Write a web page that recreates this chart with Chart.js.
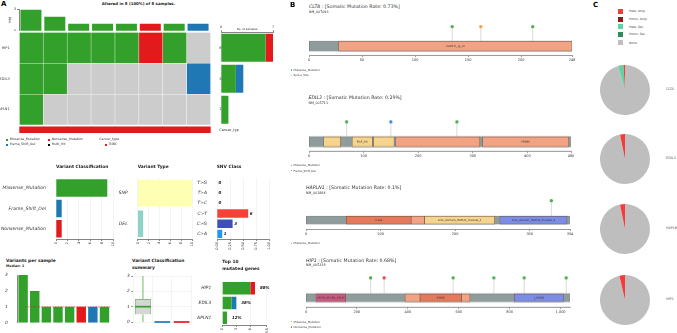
<!DOCTYPE html>
<html><head><meta charset="utf-8">
<script src="https://cdn.jsdelivr.net/npm/chart.js@4"></script>
<style>
html,body{margin:0;padding:0;background:#fff;}
#root{position:relative;width:677px;height:333px;overflow:hidden;background:#fff;font-family:'DejaVu Sans',sans-serif;}
canvas{position:absolute;}
.t{position:absolute;white-space:nowrap;line-height:1;color:#222;}
.m{position:absolute;}
</style></head><body><div id="root"></div>
<script>
// ================= DATA =================
const samples = ['S1','S2','S3','S4','S5','S6','S7','S8'];
const genes = ['HIP1','EDIL3','HAPLN1'];
const genePct = ['88%','38%','12%'];
const tmbPerSample = [3,2,1,1,1,1,1,1];
const tmbClass = ['Missense_Mutation','Missense_Mutation','Missense_Mutation','Missense_Mutation','Missense_Mutation','Nonsense_Mutation','Missense_Mutation','Frame_Shift_Del'];
const HIP1_calls = ['Missense_Mutation','Missense_Mutation','Missense_Mutation','Missense_Mutation','Missense_Mutation','Nonsense_Mutation','Missense_Mutation',''];
const EDIL3_calls = ['Missense_Mutation','Missense_Mutation','','','','','','Frame_Shift_Del'];
const HAPLN1_calls = ['Missense_Mutation','','','','','','',''];
const cancerType = ['TNBC','TNBC','TNBC','TNBC','TNBC','TNBC','TNBC','TNBC'];
const geneMissense = [6,2,1];
const geneNonsense = [1,0,0];
const geneFrameShift = [0,1,0];
const maxSamples = 7;

const vcLabels = ['Missense_Mutation','Frame_Shift_Del','Nonsense_Mutation'];
const vcCounts = [9,1,1];
const vtLabels = ['SNP','DEL'];
const vtCounts = [10,1];
const snvLabels = ['T>G','T>A','T>C','C>T','C>G','C>A'];
const snvCounts = [0,0,0,6,3,1];

const variantsPerSample = [3,2,1,1,1,1,1,1];
const vpsClass = ['Missense_Mutation','Missense_Mutation','Missense_Mutation','Missense_Mutation','Missense_Mutation','Nonsense_Mutation','Frame_Shift_Del','Missense_Mutation'];
const medianVariants = 1;

const vcsMin = [0,0,0];
const vcsQ1  = [0.5,0,0];
const vcsMed = [1,0,0];
const vcsQ3  = [1.5,0,0];
const vcsMax = [3,0,0];

const topGenes = ['HIP1','EDIL3','HAPLN1'];
const topPct = ['88%','38%','12%'];

// lollipop data
const CLTA_len = 248, CLTA_ticks = [0,50,100,150,200,248];
const CLTA_domStart = [28], CLTA_domEnd = [248], CLTA_domName = ['clathrin_lg_ch'], CLTA_domLabel = ['clathrin_lg_ch'];
const CLTA_mutPos = [135,162,211];
const CLTA_mutClass = ['Missense_Mutation','Splice_Site','Missense_Mutation'];

const EDIL3_len = 480, EDIL3_ticks = [0,100,200,300,400,480];
const EDIL3_domStart = [27,79,118,159,318], EDIL3_domEnd = [58,116,156,313,476];
const EDIL3_domName = ['EGF','EGF_CA','EGF','FA58C','FA58C'];
const EDIL3_domLabel = ['','EGF_CA','','','FA58C'];
const EDIL3_mutPos = [69,150,271];
const EDIL3_mutClass = ['Missense_Mutation','Frame_Shift_Del','Missense_Mutation'];

const HAPLN1_len = 354, HAPLN1_ticks = [0,100,200,300,354];
const HAPLN1_domStart = [54,141,159,260], HAPLN1_domEnd = [141,159,253,350];
const HAPLN1_domName = ['V-set','Ig','Link_domain_HAPLN_module_1','Link_domain_HAPLN_module_2'];
const HAPLN1_domLabel = ['V-set','','Link_domain_HAPLN_module_1','Link_domain_HAPLN_module_2'];
const HAPLN1_mutPos = [329];
const HAPLN1_mutClass = ['Missense_Mutation'];

const HIP1_len = 1037, HIP1_ticks = [0,200,400,600,800,1000];
const HIP1_domStart = [39,389,448,611,818], HIP1_domEnd = [156,448,611,644,1011];
const HIP1_domName = ['ANTH_AP180_CALM','coil','COG5','coil','I_LWEQ'];
const HIP1_domLabel = ['ANTH_AP180_CALM','','COG5','','I_LWEQ'];
const HIP1_mutPos = [254,307,578,738,857,1022];
const HIP1_mutClass = ['Missense_Mutation','Nonsense_Mutation','Missense_Mutation','Missense_Mutation','Missense_Mutation','Missense_Mutation'];

// CNV pies
const cnvLabels = ['Hete. Amp.','Homo. Amp.','Hete. Del.','Homo. Del.','None'];
const cnvGenes = ['CLTA','EDIL3','HAPLN1','HIP1'];
const CLTA_cnv   = [1.0,0,3.5,0,95.5];
const EDIL3_cnv  = [3.2,0,0,0,96.8];
const HAPLN1_cnv = [3.2,0,0,0,96.8];
const HIP1_cnv   = [3.6,0,0,0,96.4];

// ================= STYLES =================
const vcColor = {Missense_Mutation:'#33A02C', Nonsense_Mutation:'#E31A1C', Frame_Shift_Del:'#1F78B4', Multi_Hit:'#000000'};
const NONE_COLOR = '#CCCCCC';
const cancerColor = {TNBC:'#E31A1C'};
const vtColor = {SNP:'#FFFFB3', DEL:'#8DD3C7'};
const snvColor = {'T>G':'#4CAF50','T>A':'#795548','T>C':'#FFC107','C>T':'#F44336','C>G':'#3F51B5','C>A':'#2196F3'};
const mutColor = {Missense_Mutation:'#4DB04A', Splice_Site:'#F5A04A', Frame_Shift_Del:'#3B8ED6', Nonsense_Mutation:'#E8474A'};
const domainColor = {clathrin_lg_ch:'#F2A384', EGF:'#F5D48E', EGF_CA:'#F5D48E', FA58C:'#F2A384',
  'V-set':'#E4795C', Ig:'#F2A384', Link_domain_HAPLN_module_1:'#F5D48E', Link_domain_HAPLN_module_2:'#7B8DE6',
  ANTH_AP180_CALM:'#CC5B82', coil:'#F2A384', COG5:'#E4795C', I_LWEQ:'#7B8DE6'};
const cnvColor = {'Hete. Amp.':'#F8393B','Homo. Amp.':'#8B1A1A','Hete. Del.':'#5FD3A4','Homo. Del.':'#2E8B62','None':'#BEBEBE'};

Chart.defaults.font.family = "'DejaVu Sans', sans-serif";
Chart.defaults.color = '#333';

const root = document.getElementById('root');
function mk(x,y,w,h){const c=document.createElement('canvas');c.width=w;c.height=h;c.style.left=x+'px';c.style.top=y+'px';c.style.width=w+'px';c.style.height=h+'px';root.appendChild(c);return c.getContext('2d');}
function fit(size){return function(a){if(a.isHorizontal())a.height=size;else a.width=size;a.paddingLeft=0;a.paddingRight=0;a.paddingTop=0;a.paddingBottom=0;};}
function txt(x,y,s,o={}){const d=document.createElement('div');d.className='t';d.innerHTML=s;d.style.fontSize=(o.size||4)+'px';d.style.left=x+'px';d.style.top=y+'px';
  const ax=o.anchor==='c'?'-50%':o.anchor==='r'?'-100%':'0';d.style.transform=`translate(${ax},-50%)`+(o.rot?` rotate(${o.rot}deg)`:'');
  if(o.bold)d.style.fontWeight='bold';if(o.italic)d.style.fontStyle='italic';if(o.color)d.style.color=o.color;root.appendChild(d);return d;}
function mark(x,y,color,s,round){const d=document.createElement('div');d.className='m';d.style.left=(x-s/2)+'px';d.style.top=(y-s/2)+'px';d.style.width=s+'px';d.style.height=s+'px';d.style.background=color;if(round)d.style.borderRadius='50%';root.appendChild(d);}
function base(extra){return Object.assign({responsive:false,devicePixelRatio:1,animation:false,events:[],plugins:{legend:{display:false},tooltip:{enabled:false}}},extra);}
const AX='#333';
const tickGrid = {drawOnChartArea:false,tickLength:2,color:AX,lineWidth:0.6};

// ================= PANEL A =================
txt(1,4,'A',{size:7,bold:true,color:'#000'});
txt(138.5,4,'Altered in 8 (100%) of 8 samples.',{size:3.9,bold:true,anchor:'c'});
txt(10,20,'TMB',{size:3,anchor:'c',rot:-90});

// TMB bars
new Chart(mk(0,6,212,25),{type:'bar',data:{labels:samples,datasets:[{data:tmbPerSample,backgroundColor:tmbClass.map(c=>vcColor[c]),barPercentage:0.88,categoryPercentage:1,borderWidth:0}]},
 options:base({layout:{padding:{top:3.5,right:2,left:0,bottom:0}},scales:{x:{display:false},
  y:{min:0,max:Math.max(...tmbPerSample),afterBuildTicks:a=>{a.ticks=[{value:0},{value:Math.max(...tmbPerSample)}];},afterFit:fit(19),grid:tickGrid,border:{color:AX,width:0.6},ticks:{font:{size:3.5},padding:1,color:AX}}}})});

// oncoplot matrix
const callsByGene=[HIP1_calls,EDIL3_calls,HAPLN1_calls];
const nG=genes.length;
const mDatasets=callsByGene.map((calls,i)=>({data:samples.map(()=>[nG-1-i,nG-i]),backgroundColor:calls.map(c=>c?vcColor[c]:NONE_COLOR),borderColor:'rgba(255,255,255,0.9)',borderWidth:0.5,borderSkipped:false,barPercentage:1,categoryPercentage:1,grouped:false}));
mDatasets.push({data:samples.map(()=>[-0.26,-0.06]),backgroundColor:cancerType.map(t=>cancerColor[t]),borderWidth:0,barPercentage:1,categoryPercentage:1,grouped:false});
new Chart(mk(0,30,240,105),{type:'bar',data:{labels:samples,datasets:mDatasets},
 options:base({layout:{padding:{top:2.3,right:1.3,left:0,bottom:2}},scales:{x:{display:false},
  y:{position:'left',min:-0.26,max:3,afterBuildTicks:a=>{a.ticks=genes.map((g,i)=>({value:nG-0.5-i}));},ticks:{callback:(v,i)=>genes[i],font:{size:3.5},padding:1.6,color:AX},grid:{display:false},border:{display:false},afterFit:fit(19.3)},
  y2:{position:'right',min:-0.26,max:3,afterBuildTicks:a=>{a.ticks=[...genes.map((g,i)=>({value:nG-0.5-i})),{value:-0.16}];},ticks:{callback:(v,i)=>i<nG?genePct[i]:'Cancer_type',font:{size:3.5},padding:0.5,color:AX},grid:{display:false},border:{display:false},afterFit:fit(28)}}})});

// right bars
txt(247,28.5,'No. of samples',{size:2.8,anchor:'c'});
new Chart(mk(215,14,63,113),{type:'bar',data:{labels:genes,datasets:[
  {data:geneMissense,backgroundColor:vcColor.Missense_Mutation},
  {data:geneNonsense,backgroundColor:vcColor.Nonsense_Mutation},
  {data:geneFrameShift,backgroundColor:vcColor.Frame_Shift_Del}]},
 options:base({indexAxis:'y',datasets:{bar:{barPercentage:0.9,categoryPercentage:1,borderWidth:0}},layout:{padding:{left:6,right:5,top:0,bottom:1.7}},
  scales:{x:{position:'top',stacked:true,min:0,max:maxSamples,afterBuildTicks:a=>{a.ticks=[{value:0},{value:maxSamples}];},afterFit:fit(18.3),grid:tickGrid,border:{color:AX,width:0.6},ticks:{font:{size:3.5},padding:1,maxRotation:0,color:AX}},
   y:{stacked:true,display:false}}})});

// legend A
const lgA=[[7.3,139.7,vcColor.Missense_Mutation,'Missense_Mutation'],[49.3,139.7,vcColor.Nonsense_Mutation,'Nonsense_Mutation'],
 [7.3,144.7,vcColor.Frame_Shift_Del,'Frame_Shift_Del'],[49.3,144.7,vcColor.Multi_Hit,'Multi_Hit'],[106,144.7,cancerColor.TNBC,'TNBC']];
lgA.forEach(l=>{mark(l[0],l[1],l[2],1.8,false);txt(l[0]+2.4,l[1],l[3],{size:3.2,color:'#333'});});
txt(99.3,139.7,'Cancer_type',{size:3.2,color:'#333'});

// value label plugin
const valLabels={id:'valLabels',afterDatasetsDraw(chart,args,o){if(!o.labels)return;const ctx=chart.ctx;const xs=chart.scales.x;const ys=chart.scales.y;ctx.save();ctx.font=o.font;ctx.fillStyle='#111';ctx.textBaseline='middle';
  o.labels.forEach((t,i)=>{const x=xs.getPixelForValue(o.ends[i])+o.dx;const y=ys.getPixelForValue(i);ctx.fillText(t,x,y);});ctx.restore();}};

const lightGrid={color:'#ececec',lineWidth:0.6,drawTicks:true,tickLength:2,tickColor:AX};

// Variant Classification
txt(56,167.3,'Variant Classification',{size:4.4,bold:true});
new Chart(mk(0,176,118,75),{type:'bar',data:{labels:vcLabels,datasets:[{data:vcCounts,backgroundColor:vcLabels.map(l=>vcColor[l]),barPercentage:0.86,categoryPercentage:1,borderWidth:0}]},
 options:base({indexAxis:'y',layout:{padding:{top:1.8,right:5,left:0,bottom:0}},scales:{
  x:{min:0,max:10,ticks:{stepSize:2,font:{size:3.5},minRotation:90,maxRotation:90,padding:1,autoSkip:false,color:AX},grid:lightGrid,border:{color:AX,width:0.6},afterFit:fit(12)},
  y:{ticks:{font:{size:4.6,style:'italic'},padding:2,color:AX},grid:{display:false},border:{display:false},afterFit:fit(56)}}})});

// Variant Type
txt(137.7,167.3,'Variant Type',{size:4.4,bold:true});
new Chart(mk(118,176,79,75),{type:'bar',data:{labels:vtLabels,datasets:[{data:vtCounts,backgroundColor:vtLabels.map(l=>vtColor[l]),barPercentage:0.87,categoryPercentage:1,borderWidth:0}]},
 options:base({indexAxis:'y',layout:{padding:{top:1.8,right:4.7,left:0,bottom:0}},scales:{
  x:{min:0,max:10,ticks:{stepSize:2,font:{size:3.5},minRotation:90,maxRotation:90,padding:1,autoSkip:false,color:AX},grid:lightGrid,border:{color:AX,width:0.6},afterFit:fit(12)},
  y:{ticks:{font:{size:4.6,style:'italic'},padding:2,color:AX},grid:{display:false},border:{display:false},afterFit:fit(19.7)}}})});

// SNV Class
const snvTotal=snvCounts.reduce((a,b)=>a+b,0);
txt(216.7,167.3,'SNV Class',{size:4.4,bold:true});
new Chart(mk(197,176,78,75),{type:'bar',data:{labels:snvLabels,datasets:[{data:snvCounts,backgroundColor:snvLabels.map(l=>snvColor[l]),barPercentage:0.82,categoryPercentage:1,borderWidth:0}]},
 options:base({indexAxis:'y',layout:{padding:{top:1.8,right:6,left:0,bottom:0}},plugins:{legend:{display:false},tooltip:{enabled:false},valLabels:{labels:snvCounts.map(String),ends:snvCounts,dx:1.6,font:'italic bold 4px "DejaVu Sans"'}},scales:{
  x:{min:0,max:snvTotal,afterBuildTicks:a=>{a.ticks=[0,0.25,0.5,0.75,1].map(f=>({value:f*snvTotal}));},ticks:{callback:v=>(v/snvTotal).toFixed(2),font:{size:3.5},minRotation:90,maxRotation:90,padding:1,autoSkip:false,color:AX},grid:lightGrid,border:{color:AX,width:0.6},afterFit:fit(12)},
  y:{ticks:{font:{size:4.4,style:'italic'},padding:2,color:AX},grid:{display:false},border:{display:false},afterFit:fit(20)}}}),plugins:[valLabels]});

// Variants per sample
txt(6,261.3,'Variants per sample',{size:4.4,bold:true});
txt(6,267.3,'Median: 1',{size:3.3,bold:true});
const medianLine={id:'medianLine',afterDatasetsDraw(chart){const {ctx,chartArea,scales:{y}}=chart;const py=y.getPixelForValue(medianVariants);ctx.save();ctx.strokeStyle='#E31A1C';ctx.setLineDash([1.5,1.2]);ctx.lineWidth=0.6;ctx.beginPath();ctx.moveTo(chartArea.left+8,py);ctx.lineTo(chartArea.right,py);ctx.stroke();ctx.restore();}};
new Chart(mk(0,272,113,61),{type:'bar',data:{labels:samples,datasets:[{data:variantsPerSample,backgroundColor:vpsClass.map(c=>vcColor[c]),barPercentage:0.81,categoryPercentage:1,borderWidth:0}]},
 options:base({layout:{padding:{top:3,right:2.7,left:0,bottom:10.3}},scales:{x:{display:false},
  y:{min:0,max:3,ticks:{stepSize:1,font:{size:4.3,style:'italic'},padding:1.5,color:AX},grid:{display:false,drawTicks:true},border:{color:AX,width:0.6},afterFit:fit(17.3)}}}),plugins:[medianLine]});

// Variant Classification summary (box plot)
txt(132,261.3,'Variant Classification',{size:4.4,bold:true});
txt(132,268,'summary',{size:4.4,bold:true});
const boxPlugin={id:'boxPlugin',afterDatasetsDraw(chart){const {ctx,scales:{x,y}}=chart;const meta=chart.getDatasetMeta(0);
  vcLabels.forEach((l,i)=>{const cx=x.getPixelForValue(i);const w=meta.data[i].width;const col=vcColor[l];ctx.save();ctx.strokeStyle=col;ctx.lineWidth=0.7;ctx.beginPath();
   ctx.moveTo(cx,y.getPixelForValue(vcsMax[i]));ctx.lineTo(cx,y.getPixelForValue(vcsQ3[i]));ctx.moveTo(cx,y.getPixelForValue(vcsQ1[i]));ctx.lineTo(cx,y.getPixelForValue(vcsMin[i]));ctx.stroke();
   ctx.lineWidth=1.7;ctx.beginPath();const ym=y.getPixelForValue(vcsMed[i]);ctx.moveTo(cx-w/2,ym);ctx.lineTo(cx+w/2,ym);ctx.stroke();ctx.restore();});}};
new Chart(mk(113,272,85,61),{type:'bar',data:{labels:vcLabels,datasets:[{data:vcsQ1.map((q,i)=>[q,vcsQ3[i]]),backgroundColor:'#D6D6D6',borderColor:vcLabels.map(l=>vcColor[l]),
  borderWidth:c=>vcsQ3[c.dataIndex]>vcsQ1[c.dataIndex]?0.7:0,borderSkipped:false,barPercentage:0.81,categoryPercentage:1}]},
 options:base({layout:{padding:{top:4,right:6.7,left:0,bottom:11}},scales:{x:{display:true,ticks:{display:false},grid:{color:'#ececec',lineWidth:0.6,drawTicks:false},border:{display:false},afterFit:fit(0)},
  y:{min:0,max:3,ticks:{stepSize:1,font:{size:4.3,style:'italic'},padding:1.5,color:AX},grid:{color:'#ececec',lineWidth:0.6,tickLength:2,tickColor:AX},border:{display:false},afterFit:fit(20.3)}}}),plugins:[boxPlugin]});

// Top 10 mutated genes
txt(222.3,261.5,'Top 10',{size:4.4,bold:true});
txt(222.3,269,'mutated genes',{size:4.4,bold:true});
const topTotals=geneMissense.map((v,i)=>v+geneNonsense[i]+geneFrameShift[i]);
new Chart(mk(197,278,78,55),{type:'bar',data:{labels:topGenes,datasets:[
  {data:geneMissense,backgroundColor:vcColor.Missense_Mutation},
  {data:geneNonsense,backgroundColor:vcColor.Nonsense_Mutation},
  {data:geneFrameShift,backgroundColor:vcColor.Frame_Shift_Del}]},
 options:base({indexAxis:'y',datasets:{bar:{barPercentage:0.85,categoryPercentage:1,borderWidth:0}},layout:{padding:{top:2.9,right:8.3,left:0,bottom:0}},
  plugins:{legend:{display:false},tooltip:{enabled:false},valLabels:{labels:topPct,ends:topTotals,dx:5,font:'italic bold 4px "DejaVu Sans"'}},
  scales:{x:{stacked:true,min:0,max:9.5,ticks:{stepSize:3,font:{size:3.5},minRotation:90,maxRotation:90,padding:1,autoSkip:false,color:AX},grid:lightGrid,border:{color:AX,width:0.6},afterFit:fit(8)},
   y:{stacked:true,ticks:{font:{size:4.4,style:'italic'},padding:3,color:AX},grid:{display:false},border:{display:false},afterFit:fit(25.3)}}}),plugins:[valLabels]});

// ================= PANEL B =================
txt(290,5,'B',{size:7,bold:true,color:'#000'});
const HEAD_Y=2.2;
const domLabelPlugin={id:'domLabels',afterDatasetsDraw(chart){const ctx=chart.ctx;chart.data.datasets.forEach((ds,di)=>{if(!ds.domLabels)return;const meta=chart.getDatasetMeta(di);ctx.save();ctx.font='2.8px "DejaVu Sans"';ctx.fillStyle='#333';ctx.textAlign='center';ctx.textBaseline='middle';
  meta.data.forEach((el,i)=>{const t=ds.domLabels[i];if(!t)return;const p=el.getProps(['x','base','y'],true);ctx.fillText(t,(p.x+p.base)/2,p.y);});ctx.restore();});}};
function lollipop(p){
  const H=31.5,padT=5,axH=9,side=10;
  const ctx=mk(p.x0-side,p.bottom-H-padT,p.x1-p.x0+2*side,padT+H+axH);
  const stems=[];p.pos.forEach(v=>{stems.push({x:v,y:0},{x:v,y:HEAD_Y},{x:v,y:null});});
  new Chart(ctx,{type:'bar',data:{datasets:[
    {type:'scatter',data:p.pos.map(v=>({x:v,y:HEAD_Y})),pointRadius:1.7,pointBorderWidth:0,pointBackgroundColor:p.cls.map(c=>mutColor[c]),clip:false},
    {type:'bar',indexAxis:'y',grouped:false,data:p.dS.map((s,i)=>({x:[s,p.dE[i]],y:0})),backgroundColor:p.dN.map(n=>domainColor[n]),borderColor:'#6b5246',borderWidth:0.6,borderSkipped:false,barThickness:p.thick,domLabels:p.dL},
    {type:'bar',indexAxis:'y',grouped:false,data:[{x:[0,p.len],y:0}],backgroundColor:'#8F9C9B',borderColor:'#6d7777',borderWidth:0.5,borderSkipped:false,barThickness:p.thick},
    {type:'line',data:stems,borderColor:'#d2d2d2',borderWidth:0.8,pointRadius:0,spanGaps:false}
  ]},options:base({layout:{padding:{left:side,right:side,top:padT,bottom:0}},scales:{
    x:{type:'linear',offset:false,min:0,max:p.len,afterBuildTicks:a=>{a.ticks=p.ticks.map(v=>({value:v}));},ticks:{callback:v=>v.toLocaleString('en-US'),font:{size:3.5},padding:1,maxRotation:0,autoSkip:false,color:AX},grid:{offset:false,drawOnChartArea:false,tickLength:2,color:'#555',lineWidth:0.6},border:{color:'#555',width:0.6},afterFit:fit(axH)},
    y:{type:'linear',offset:false,min:-1,max:2.5,display:false}}}),plugins:[domLabelPlugin]});
}
function bTitle(x,y,gene,rate,nm){txt(x,y,`<i>${gene}</i> : [Somatic Mutation Rate: ${rate}]`,{size:4.7,color:'#333'});txt(x,y+5.3,nm,{size:3.3,color:'#333'});}
function bLegend(y,items){items.forEach((c,i)=>{mark(291.5,y+i*5.3,mutColor[c],1.6,true);txt(293.5,y+i*5.3,c,{size:2.8,color:'#444'});});}

bTitle(309,7.3,'CLTA','0.73%','NM_007096');
lollipop({x0:309,x1:572,bottom:55,len:CLTA_len,ticks:CLTA_ticks,dS:CLTA_domStart,dE:CLTA_domEnd,dN:CLTA_domName,dL:CLTA_domLabel,pos:CLTA_mutPos,cls:CLTA_mutClass,thick:10});
bLegend(70,['Missense_Mutation','Splice_Site']);

bTitle(308.5,98.3,'EDIL3','0.29%','NM_005711');
lollipop({x0:308.5,x1:571,bottom:150.5,len:EDIL3_len,ticks:EDIL3_ticks,dS:EDIL3_domStart,dE:EDIL3_domEnd,dN:EDIL3_domName,dL:EDIL3_domLabel,pos:EDIL3_mutPos,cls:EDIL3_mutClass,thick:10});
bLegend(165.3,['Missense_Mutation','Frame_Shift_Del']);

bTitle(306,188.3,'HAPLN1','0.1%','NM_001884');
lollipop({x0:306,x1:570,bottom:229,len:HAPLN1_len,ticks:HAPLN1_ticks,dS:HAPLN1_domStart,dE:HAPLN1_domEnd,dN:HAPLN1_domName,dL:HAPLN1_domLabel,pos:HAPLN1_mutPos,cls:HAPLN1_mutClass,thick:8});
bLegend(243.3,['Missense_Mutation']);

bTitle(306,261,'HIP1','0.68%','NM_005338');
lollipop({x0:306,x1:570,bottom:306.5,len:HIP1_len,ticks:HIP1_ticks,dS:HIP1_domStart,dE:HIP1_domEnd,dN:HIP1_domName,dL:HIP1_domLabel,pos:HIP1_mutPos,cls:HIP1_mutClass,thick:8});
bLegend(321.7,['Missense_Mutation','Nonsense_Mutation']);

// ================= PANEL C =================
txt(593,5,'C',{size:7,bold:true,color:'#000'});
const lgY=[11,19,26.7,34.3,42.7];
cnvLabels.forEach((l,i)=>{mark(620.8,lgY[i],cnvColor[l],5,false);txt(629,lgY[i],l,{size:3,color:'#444'});});
const cnvData={CLTA:CLTA_cnv,EDIL3:EDIL3_cnv,HAPLN1:HAPLN1_cnv,HIP1:HIP1_cnv};
const pieOrder=['None','Homo. Del.','Hete. Del.','Homo. Amp.','Hete. Amp.'];
const pieY=[90,159.3,229.3,300];
cnvGenes.forEach((g,i)=>{const cy=pieY[i];
  new Chart(mk(625-26,cy-26,52,52),{type:'pie',data:{labels:pieOrder,datasets:[{data:pieOrder.map(l=>cnvData[g][cnvLabels.indexOf(l)]),backgroundColor:pieOrder.map(l=>cnvColor[l]),borderWidth:0}]},
   options:base({layout:{padding:1}})});
  txt(666,cy,g,{size:3.4,color:'#555'});});
</script></body></html>
